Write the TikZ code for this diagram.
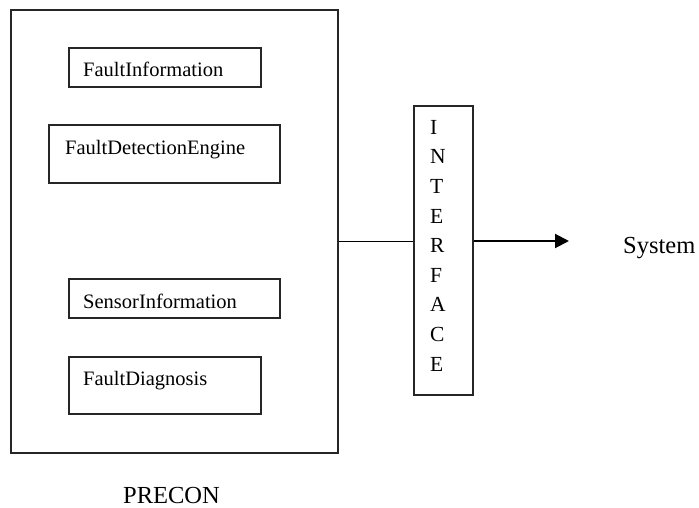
\documentclass[tikz,border=0pt]{standalone}
\usepackage{fontspec}
\setmainfont{Liberation Serif}
\usetikzlibrary{arrows.meta}
\tikzset{
  box/.style={draw=black!85, line width=1.1pt, rectangle, inner sep=0pt},
  lbl/.style={inner sep=0pt, font=\fontsize{20.5}{24}\selectfont},
  biglbl/.style={inner sep=0pt, font=\fontsize{24.5}{28}\selectfont},
}
\begin{document}
\begin{tikzpicture}[x=1pt, y=-1pt]
  \useasboundingbox (0,0) rectangle (699,508);
  % outer PRECON container
  \node[box, line width=1.3pt, minimum width=327pt, minimum height=443pt] (outer) at (174.5,231.5) {};
  % inner component boxes
  \node[box, minimum width=192pt, minimum height=39pt] (fi) at (165,67.5) {};
  \node[box, minimum width=231pt, minimum height=58pt] (fde) at (164.5,154) {};
  \node[box, minimum width=211pt, minimum height=39pt] (si) at (174.5,298.5) {};
  \node[box, minimum width=192pt, minimum height=57pt] (fd) at (165,385.5) {};
  \node[lbl, anchor=base west] (fit) at (83,76.5) {FaultInformation};
  \node[lbl, anchor=base west] (fdet) at (65,154.5) {FaultDetectionEngine};
  \node[lbl, anchor=base west] (sit) at (83,308.5) {SensorInformation};
  \node[lbl, anchor=base west] (fdt) at (83,385.5) {FaultDiagnosis};
  \node[biglbl, anchor=base west] (precon) at (123,503) {PRECON};
  % interface block
  \node[box, minimum width=59pt, minimum height=289pt] (iface) at (443.5,250.5) {};
  \node[inner sep=0pt, anchor=north west, align=left,
        font=\fontsize{21.5}{29.6}\selectfont] (ifacet) at (430,120)
        {I\\N\\T\\E\\R\\F\\A\\C\\E};
  % connectors
  \coordinate (jn) at (0,241);
  \coordinate (tip) at (569,241);
  \draw[line width=1pt] (outer.east |- jn) -- (iface.west |- jn);
  \draw[line width=2pt, -{Triangle[length=14pt, width=14pt]}] (iface.east |- jn) -- (tip);
  \node[biglbl, anchor=base west] (sys) at (623,253) {System};
\end{tikzpicture}
\end{document}
